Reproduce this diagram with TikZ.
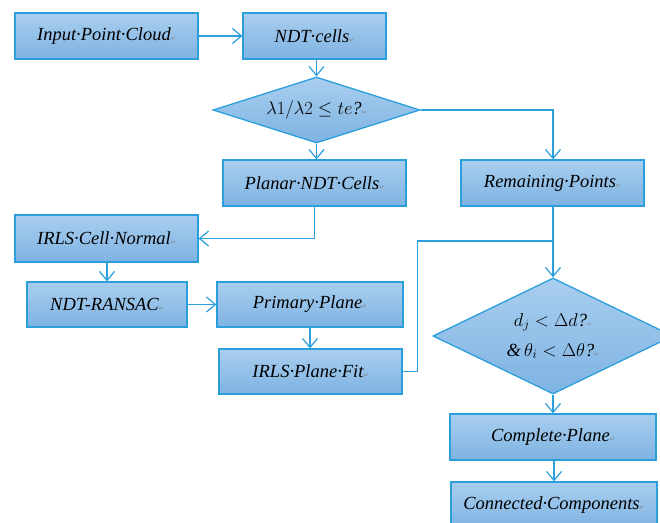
\documentclass[tikz,border=0pt]{standalone}
\usepackage{fix-cm}
\usepackage{fontspec}
\setmainfont{Liberation Serif}
\newfontfamily\arrfont{DejaVu Sans}
\usetikzlibrary{shapes.geometric,arrows.meta}
\definecolor{bord}{HTML}{2A9FDB}
\definecolor{ftop}{HTML}{A9CEEF}
\definecolor{fbot}{HTML}{7EB3E2}
\newcommand{\rmk}{{\arrfont\fontsize{6}{6}\selectfont\color{gray}↵}}
\begin{document}
\begin{tikzpicture}[x=1pt,y=-1pt,
  box/.style={draw=bord, line width=1.3pt, top color=ftop, bottom color=fbot,
    minimum height=46pt, inner sep=0pt, font=\fontsize{18.5}{22}\selectfont\itshape},
  dia/.style={box, diamond, minimum height=0pt},
  conn/.style={draw=bord, line width=1.2pt, -{Straight Barb[length=9pt,width=15pt,line width=1.2pt]}},
  plain/.style={draw=bord, line width=1.2pt}]
\useasboundingbox (0,0) rectangle (660,522);
\node[box, minimum width=183pt] (inp) at (106.5,36) {Input·Point·Cloud\rmk};
\node[box, minimum width=143pt] (ndt) at (314.5,36) {NDT·cells\rmk};
\node[dia, minimum width=207pt, minimum height=66pt, aspect=3.1] (d1) at (316.5,110)
  {$\lambda 1/\lambda 2 \le te$?\rmk};
\node[box, minimum width=183pt] (planar) at (314.5,183) {Planar·NDT·Cells\rmk};
\node[box, minimum width=183pt] (remain) at (552.5,183) {Remaining·Points\rmk};
\node[box, minimum width=183pt, minimum height=47pt] (irlsn) at (106.5,238.5) {IRLS·Cell·Normal\rmk};
\node[box, minimum width=160pt, minimum height=45pt] (ransac) at (107,304.5) {NDT-RANSAC\rmk};
\node[box, minimum width=186pt, minimum height=45pt] (primary) at (310,304.5) {Primary·Plane\rmk};
\node[box, minimum width=183pt, minimum height=45pt] (fit) at (310.5,371.5) {IRLS·Plane·Fit\rmk};
\node[dia, minimum width=240pt, minimum height=116pt, aspect=2.07, align=center] (d2) at (553,336)
  {$d_j < \Delta d$?\rmk\\[8pt] \&\,$\theta_i < \Delta\theta$?\rmk};
\node[box, minimum width=206pt] (complete) at (553,437) {Complete·Plane\rmk};
\node[box, minimum width=206pt] (cc) at (554,505) {Connected·Components\rmk};
\coordinate (j) at (553,241);
\draw[conn] (inp) -- (ndt);
\draw[conn] (ndt.south -| d1.north) -- (d1.north);
\draw[conn] (d1.south) -- (planar.north -| d1.south);
\draw[conn] (d1.east) -| (remain.north -| j);
\draw[conn] (planar.south) |- (irlsn.east);
\draw[conn] (irlsn.south -| ransac.north) -- (ransac.north);
\draw[conn] (ransac) -- (primary);
\draw[conn] (primary.south) -- (fit.north -| primary.south);
\draw[conn] (remain.south -| j) -- (d2.north);
\draw[plain] (fit.east) -- ++(15,0) |- (j);
\draw[conn] (d2.south) -- (complete.north);
\draw[conn] (complete.south -| cc.north) -- (cc.north);
\end{tikzpicture}
\end{document}
